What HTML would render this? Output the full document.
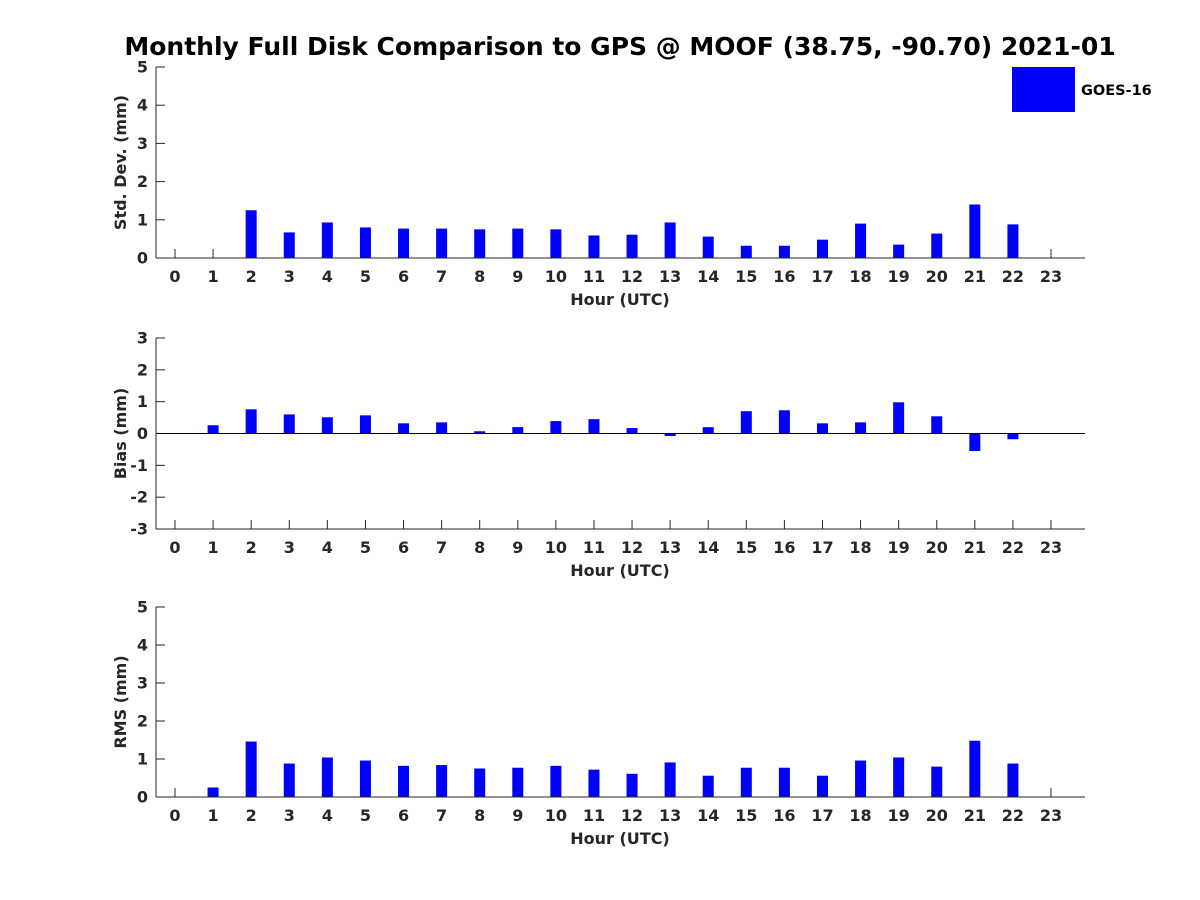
<!DOCTYPE html>
<html><head><meta charset="utf-8"><style>
body{margin:0;background:#fff}
svg{display:block;font-family:"DejaVu Sans","Liberation Sans",sans-serif;font-weight:bold}
</style></head><body>
<svg id="c" width="1200" height="900">
<text x="620" y="55" text-anchor="middle" font-size="25" fill="#000">Monthly Full Disk Comparison to GPS @ MOOF (38.75, -90.70) 2021-01</text>
<rect x="1012" y="67" width="63" height="45" fill="#0000ff"/>
<text x="1081" y="95" font-size="14.5" fill="#000">GOES-16</text>
</svg>
<script>
const hours = [0,1,2,3,4,5,6,7,8,9,10,11,12,13,14,15,16,17,18,19,20,21,22,23];
const stdDev = [null,null,1.25,0.67,0.93,0.80,0.77,0.77,0.75,0.77,0.75,0.59,0.61,0.93,0.56,0.32,0.32,0.48,0.90,0.35,0.64,1.40,0.88,null];
const bias = [null,0.26,0.76,0.60,0.51,0.57,0.32,0.35,0.07,0.20,0.39,0.45,0.17,-0.08,0.20,0.70,0.73,0.32,0.35,0.98,0.54,-0.55,-0.18,null];
const rms = [null,0.25,1.46,0.88,1.04,0.96,0.82,0.84,0.75,0.77,0.82,0.72,0.61,0.91,0.56,0.77,0.77,0.56,0.96,1.04,0.80,1.48,0.88,null];
const stdTicks = [0,1,2,3,4,5];
const biasTicks = [-3,-2,-1,0,1,2,3];
const rmsTicks = [0,1,2,3,4,5];
const NS='http://www.w3.org/2000/svg';
const svg=document.getElementById('c');
function mk(tag,attrs,parent){const e=document.createElementNS(NS,tag);for(const k in attrs)e.setAttribute(k,attrs[k]);(parent||svg).appendChild(e);return e;}
const xScale=h=>175+h*(1051-175)/23;
function panel(name,vals,ticks,ymin,ymax,top,bottom,ylabel){
  const g=mk('g',{});
  
  
  const y=v=>bottom-(v-ymin)*(bottom-top)/(ymax-ymin);
  const axisCol='#262626';
  hours.forEach(h=>{
    const t=mk('line',{x1:xScale(h),x2:xScale(h),y1:bottom,y2:bottom-9,stroke:axisCol,'stroke-width':1},g);
    
    
    const l=mk('text',{x:xScale(h),y:bottom+24,'text-anchor':'middle','font-size':16,fill:axisCol},g);
    l.textContent=h;
    
    
  });
  ticks.forEach(v=>{
    const t=mk('line',{x1:156,x2:165,y1:y(v),y2:y(v),stroke:axisCol,'stroke-width':1},g);
    
    
    const l=mk('text',{x:148,y:y(v)+5.5,'text-anchor':'end','font-size':16,fill:axisCol},g);
    l.textContent=v;
    
    
  });
  const y0=y(Math.max(ymin,0));
  vals.forEach((v,i)=>{
    if(v===null)return;
    const r=mk('rect',{x:xScale(hours[i])-5.5,width:11,y:Math.min(y(v),y0),height:Math.abs(y(v)-y0),fill:'#0000ff'},g);
    
    
  });
  const ax=mk('line',{x1:156,x2:1085,y1:bottom,y2:bottom,stroke:axisCol,'stroke-width':1},g);
  
  
  if(ymin<0){
    const z=mk('line',{x1:156,x2:1085,y1:y(0),y2:y(0),stroke:'#000','stroke-width':1},g);
    
    
  }
  const ay=mk('line',{x1:156,x2:156,y1:top,y2:bottom,stroke:axisCol,'stroke-width':1},g);
  
  
  const xt=mk('text',{x:620,y:bottom+47,'text-anchor':'middle','font-size':16,fill:axisCol},g);
  xt.textContent='Hour (UTC)';
  
  
  const cy=(top+bottom)/2;
  const yt=mk('text',{x:126,y:cy,'text-anchor':'middle','font-size':16,fill:axisCol,transform:'rotate(-90 126 '+cy+')'},g);
  yt.textContent=ylabel;
  
  
}
panel('std-dev',stdDev,stdTicks,0,5,67,258,'Std. Dev. (mm)');
panel('bias',bias,biasTicks,-3,3,338,529,'Bias (mm)');
panel('rms',rms,rmsTicks,0,5,607,797,'RMS (mm)');
</script>
</body></html>
